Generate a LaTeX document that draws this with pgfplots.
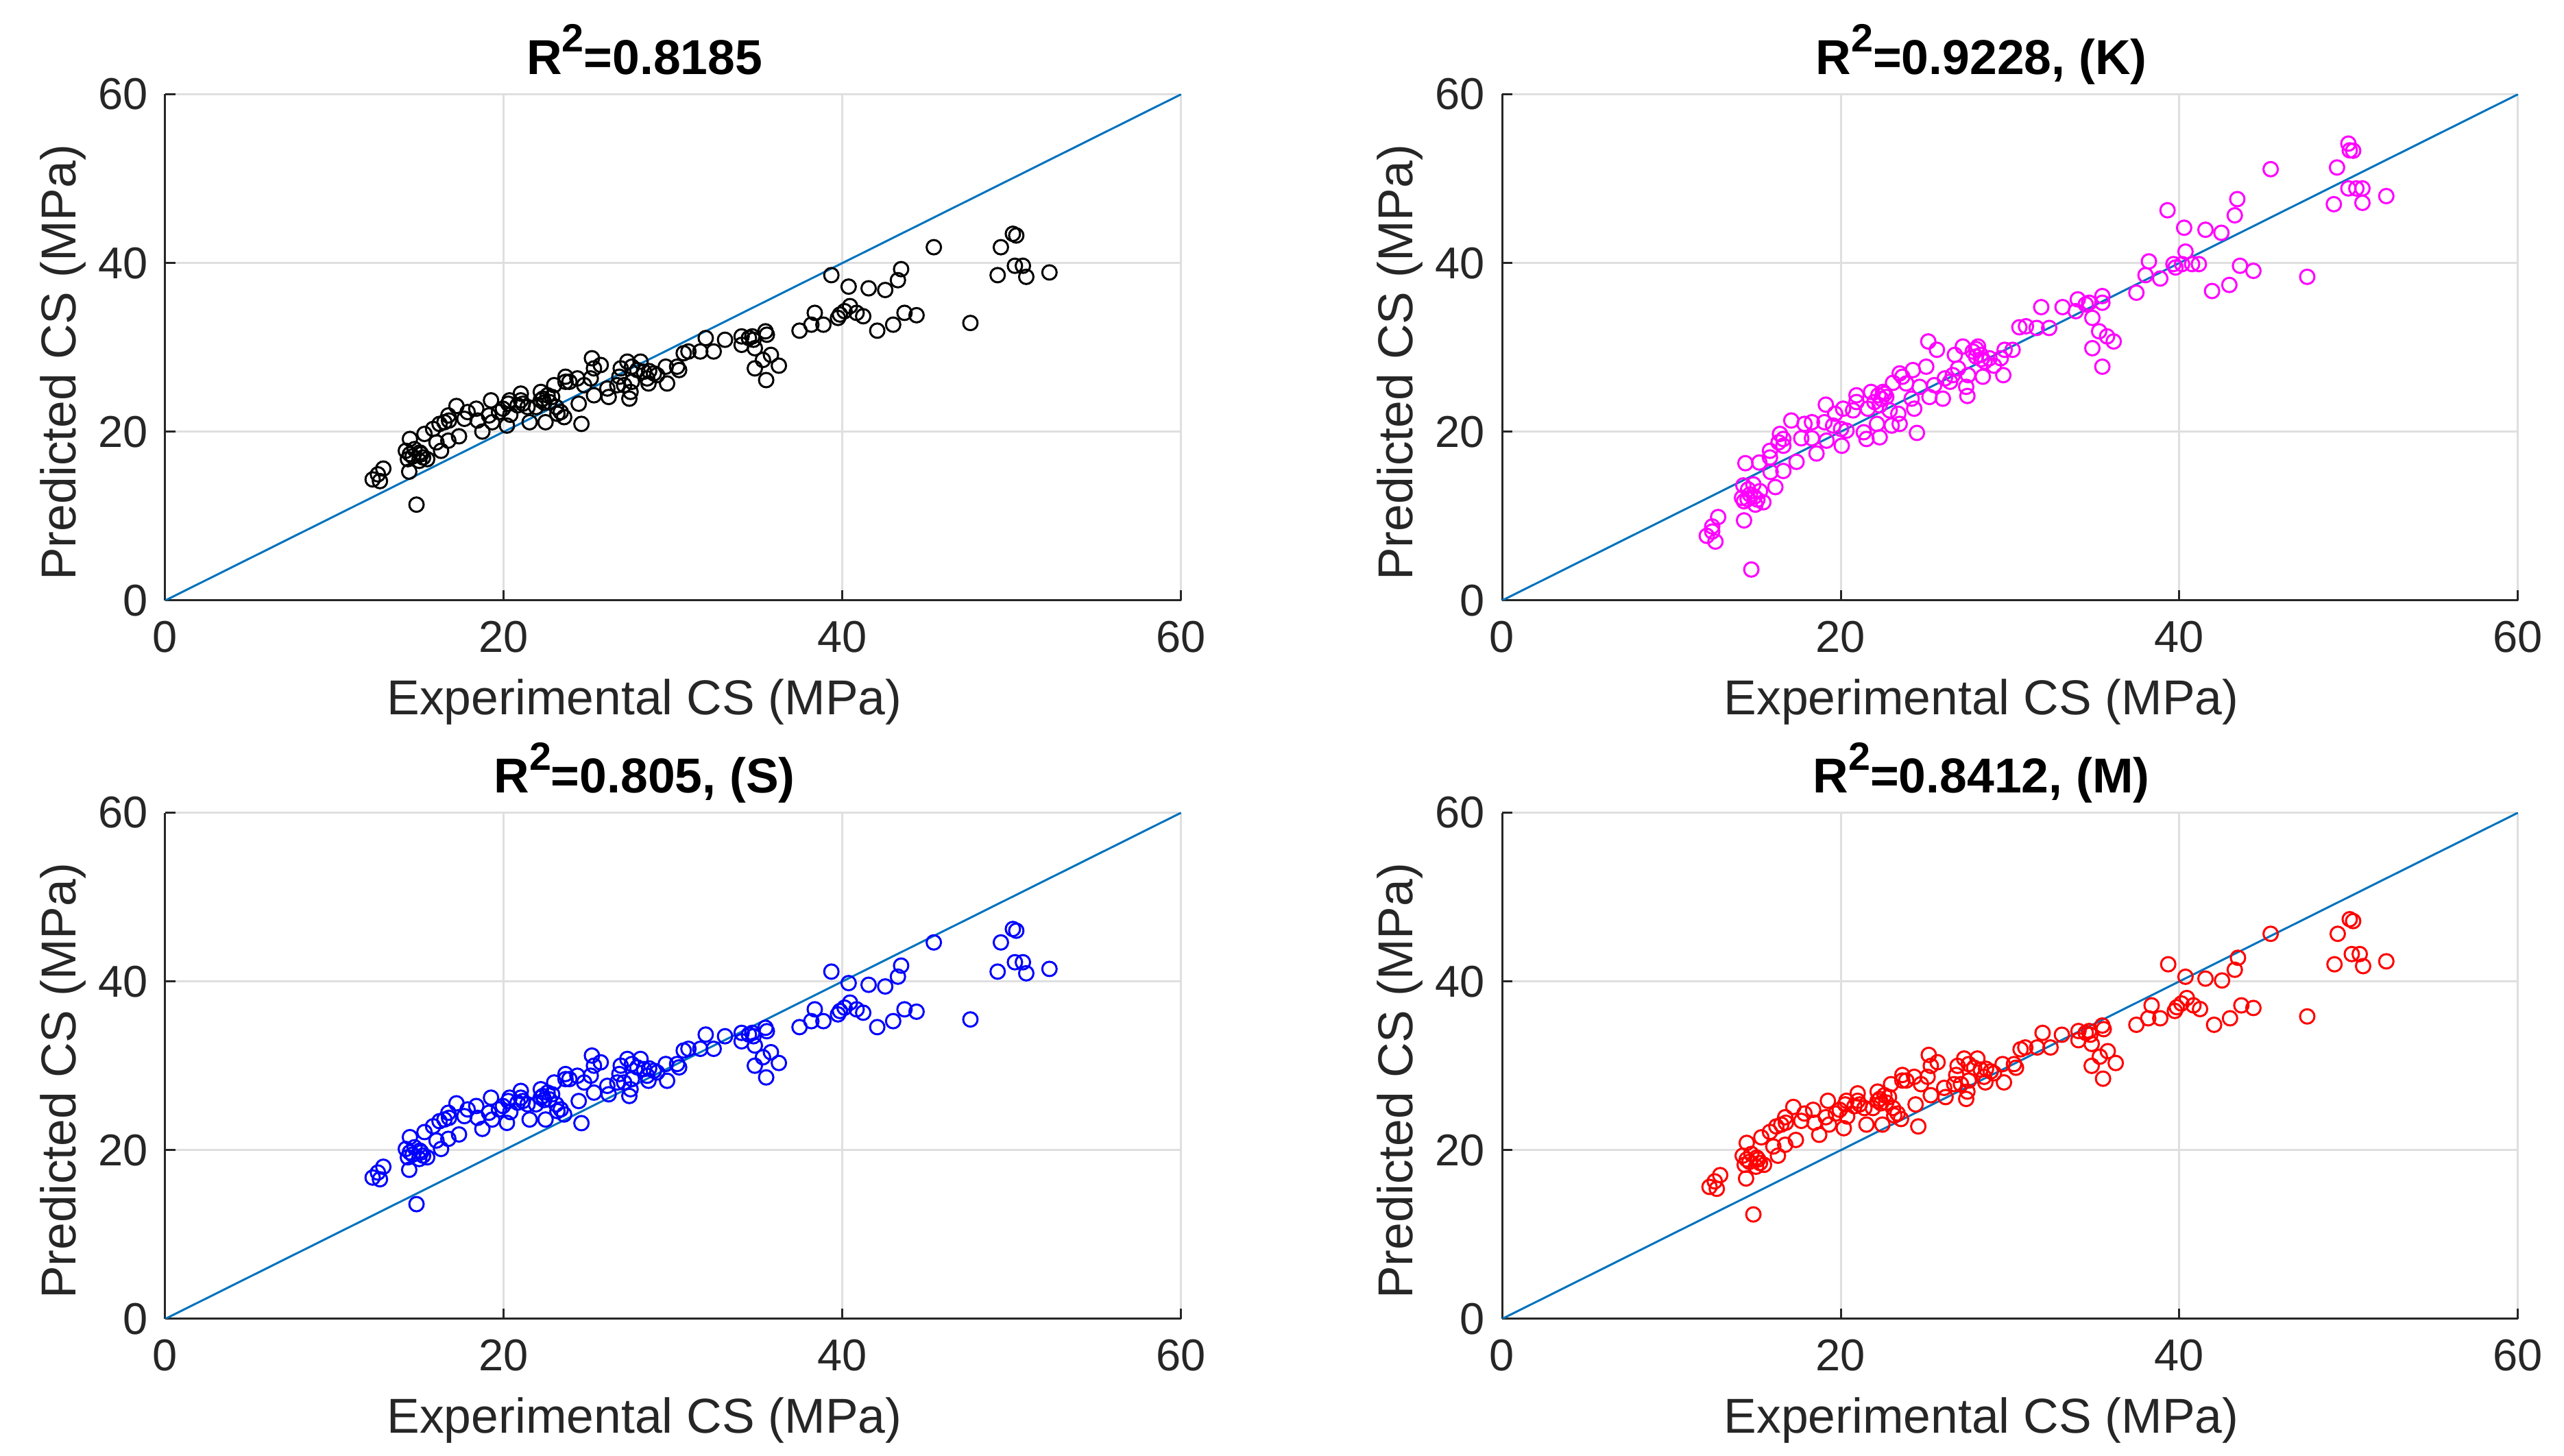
\documentclass[border=0pt]{standalone}
\usepackage{fontspec}
\setmainfont{Liberation Sans}
\usepackage{pgfplots}
\usepackage{pgfplotstable}
\pgfplotsset{compat=1.18}
\definecolor{axgray}{RGB}{38,38,38}
\definecolor{gridgray}{RGB}{223,223,223}
\definecolor{lineblue}{rgb}{0,0.447,0.741}
\definecolor{mkK}{rgb}{1,0,1}
\definecolor{mkS}{rgb}{0,0,1}
\definecolor{mkM}{rgb}{1,0,0}

% x = experimental, tl = model (top left), bl = (S), br = (M)
\pgfplotstableread{
x tl bl br
12.25 14.35 16.75 15.64
12.56 14.95 17.35 16.30
12.68 14.15 16.55 15.42
12.88 15.63 18.03 17.04
14.41 15.27 17.67 16.64
14.84 11.36 13.60 12.38
14.45 19.14 21.54 20.86
14.21 17.74 20.14 19.34
14.45 17.34 19.74 18.90
14.72 17.94 20.34 19.55
15.04 17.54 19.94 19.12
15.23 16.95 19.35 18.48
15.47 16.75 19.15 18.26
14.33 16.75 19.15 18.26
15.00 16.55 18.95 18.04
15.31 19.74 22.14 21.52
15.82 20.33 22.83 22.16
16.02 18.74 21.14 20.43
16.29 17.74 20.14 19.34
16.20 20.93 23.43 22.81
16.49 21.13 23.63 23.03
16.76 21.33 23.83 23.25
16.72 21.93 24.43 23.90
16.72 18.94 21.34 20.64
17.35 19.46 21.86 21.21
17.20 23.05 25.55 25.12
17.67 21.53 24.03 23.47
17.86 22.33 24.83 24.34
18.37 22.73 25.23 24.78
18.45 21.33 23.83 23.25
18.73 20.02 22.52 21.82
19.24 23.72 26.22 25.85
19.12 21.93 24.43 23.90
19.31 21.13 23.63 23.03
19.71 22.33 24.83 24.34
19.94 22.73 25.23 24.78
20.18 20.73 23.23 22.60
20.26 23.32 25.82 25.42
20.38 22.01 24.51 23.99
20.81 23.13 25.63 25.21
21.00 24.52 27.02 26.73
21.00 23.72 26.22 25.85
21.40 22.93 25.43 24.99
21.52 21.13 23.63 23.03
21.90 22.93 25.43 24.99
22.18 24.72 27.22 26.94
22.30 23.92 26.42 26.07
22.38 23.44 25.94 25.55
22.46 21.13 23.63 23.03
22.58 24.32 26.82 26.51
22.85 24.12 26.62 26.29
22.97 25.52 28.02 27.82
23.16 22.13 24.63 24.12
23.36 22.33 24.83 24.34
23.56 21.73 24.23 23.69
23.64 26.52 29.02 28.91
23.87 25.92 28.42 28.25
24.34 26.32 28.82 28.69
24.42 23.32 25.82 25.42
24.58 20.93 23.20 22.81
24.74 25.52 28.02 27.82
25.20 28.71 31.21 31.29
25.32 27.51 30.01 29.99
25.13 26.32 28.82 28.69
25.32 24.32 26.82 26.51
25.72 27.91 30.41 30.42
26.11 25.12 27.62 27.38
26.19 24.12 26.62 26.29
26.70 25.52 28.02 27.82
26.90 27.51 30.01 29.99
27.10 25.52 28.02 27.82
27.29 28.31 30.81 30.86
27.41 23.92 26.42 26.07
27.48 24.72 27.22 26.94
27.56 25.92 28.42 28.25
28.07 28.31 30.81 30.86
28.27 27.11 29.61 29.55
28.46 26.32 28.82 28.69
28.54 25.72 28.22 28.03
28.86 26.91 29.41 29.33
29.05 26.71 29.21 29.11
29.56 27.71 30.21 30.20
29.64 25.72 28.22 28.03
30.23 27.71 30.21 30.20
30.35 27.31 29.81 29.77
30.62 29.31 31.81 31.95
30.90 29.51 32.01 32.17
31.60 29.51 32.01 32.17
31.92 31.10 33.70 33.90
32.39 29.51 32.01 32.17
33.06 30.90 33.50 33.68
34.04 31.30 33.90 34.12
34.04 30.30 32.90 33.03
34.47 31.10 33.70 33.90
34.67 31.30 33.90 34.12
34.74 30.90 33.50 33.68
35.45 31.90 34.50 34.77
35.53 31.50 34.10 34.34
34.82 29.90 32.40 32.59
34.82 27.51 30.01 29.99
35.30 28.51 31.01 31.08
35.77 29.11 31.61 31.73
36.24 27.83 30.33 30.33
35.49 26.12 28.62 28.47
37.46 31.98 34.58 34.86
38.16 32.69 35.29 35.63
38.36 34.09 36.69 37.16
38.87 32.69 35.29 35.63
39.34 38.56 41.16 42.03
39.73 33.49 36.09 36.50
39.85 33.89 36.49 36.94
40.12 34.29 36.89 37.38
40.44 34.89 37.49 38.03
40.83 34.09 36.69 37.16
41.22 33.69 36.29 36.72
40.36 37.20 39.80 40.55
41.54 37.00 39.60 40.33
42.52 36.80 39.40 40.11
42.05 31.98 34.58 34.86
42.99 32.69 35.29 35.63
43.27 37.96 40.56 41.38
43.46 39.27 41.87 42.80
43.66 34.09 36.69 37.16
44.37 33.81 36.41 36.85
45.39 41.87 44.62 45.64
47.55 32.89 35.49 35.85
49.16 38.56 41.16 42.03
49.35 41.87 44.62 45.64
50.18 39.67 42.27 43.24
50.65 39.67 42.27 43.24
50.85 38.36 40.96 41.81
50.06 43.46 46.21 47.37
50.26 43.26 46.01 47.15
52.22 38.88 41.48 42.38
27.56 27.71 30.21 30.20
27.88 27.31 29.81 29.77
28.58 27.19 29.69 29.64
22.18 23.72 26.22 25.85
22.69 23.52 26.02 25.64
23.09 22.93 25.43 24.99
14.61 17.07 19.47 18.61
15.12 17.34 19.74 18.90
23.64 25.92 28.42 28.25
26.82 26.52 29.02 28.91
21.12 23.32 25.82 25.42
20.34 23.72 26.22 25.85
}\dataMain

% model (K)
\pgfplotstableread{
x y
12.09 7.66
12.41 8.77
12.41 8.17
12.60 6.98
12.76 9.89
14.29 9.49
14.72 3.67
14.25 13.64
14.37 16.27
14.17 12.16
14.29 11.76
14.53 13.16
14.64 12.56
14.84 13.76
14.96 11.36
15.08 11.96
15.23 12.96
15.43 11.64
15.19 16.35
15.82 16.95
15.82 17.74
15.86 15.23
16.14 13.44
16.33 18.74
16.61 19.14
16.61 18.34
16.61 15.35
16.41 19.74
17.08 21.33
17.39 16.43
17.67 19.22
17.86 20.93
18.30 21.13
18.30 19.22
18.57 17.42
19.04 21.13
19.12 23.21
19.16 18.94
19.55 20.73
19.67 22.13
20.02 20.33
20.06 18.34
20.14 22.73
20.34 20.13
20.73 22.53
20.93 24.32
20.93 23.52
21.36 19.94
21.52 19.14
21.60 22.73
21.79 24.72
21.99 23.52
22.14 20.93
22.22 24.32
22.30 23.13
22.30 19.34
22.50 24.72
22.69 24.12
22.89 22.53
23.01 20.73
23.09 25.80
23.40 22.13
23.48 20.93
23.48 26.91
23.64 26.52
23.87 25.72
24.19 23.92
24.34 22.73
24.26 27.31
24.50 19.86
24.66 25.32
25.05 27.71
25.17 30.70
25.24 24.12
25.52 25.52
25.68 29.71
26.03 23.92
26.15 26.32
26.46 25.92
26.62 26.71
26.74 29.11
26.93 27.51
27.21 30.10
27.41 25.32
27.48 24.24
27.52 26.71
27.80 29.51
27.99 28.91
28.11 30.10
28.27 29.11
28.39 26.52
28.50 28.31
28.78 28.71
29.05 27.83
29.45 28.71
29.60 26.71
29.68 29.71
30.15 29.71
30.55 32.38
30.94 32.50
31.57 32.30
31.84 34.77
32.31 32.30
33.10 34.77
33.88 34.29
34.00 35.69
34.47 35.09
34.67 35.29
34.86 33.49
34.86 29.90
35.26 31.90
35.45 36.08
35.45 35.29
35.73 31.30
36.12 30.70
35.45 27.71
37.46 36.48
38.00 38.56
38.20 40.19
38.87 38.16
39.30 46.25
39.65 39.87
39.77 39.47
40.16 39.87
40.28 44.18
40.36 41.35
40.75 39.87
41.15 39.87
41.54 43.94
41.93 36.68
42.48 43.58
42.95 37.40
43.27 45.65
43.42 47.57
43.58 39.67
44.37 39.07
45.39 51.12
47.55 38.36
49.12 46.97
49.31 51.32
49.98 54.15
50.06 53.35
50.26 53.31
49.98 48.84
50.45 48.84
50.81 48.84
50.81 47.13
52.22 47.93
22.40 23.90
22.60 24.50
28.00 29.80
28.30 28.60
14.50 12.00
14.90 12.30
}\dataK

\pgfplotsset{
  panel/.style={
    scale only axis, width=296.4pt, height=147.7pt,
    xmin=0, xmax=60, ymin=0, ymax=60,
    xtick={0,20,40,60}, ytick={0,20,40,60},
    axis x line*=bottom, axis y line*=left,
    axis line style={axgray, line width=0.6pt},
    tick style={axgray, line width=0.6pt},
    tick align=inside, major tick length=3pt,
    grid=major, grid style={gridgray, line width=0.6pt},
    /pgf/number format/assume math mode=true,
    ticklabel style={font=\fontsize{13}{15}\selectfont, text=axgray},
    yticklabel style={xshift=-1.5pt},
    xticklabel style={yshift=-2.5pt},
    every axis x label/.style={at={(axis description cs:0.4717,-0.2255)}, anchor=base},
    every axis y label/.style={at={(axis description cs:-0.0884,0.470)}, anchor=base, rotate=90},
    every axis title/.style={at={(axis description cs:0.4717,1.0393)}, anchor=base},
    label style={font=\fontsize{14.3}{17}\selectfont, text=axgray},
    title style={font=\fontsize{14.3}{17}\selectfont\bfseries, text=black},
    xlabel={Experimental CS (MPa)},
    ylabel={Predicted CS (MPa)},
  },
  pts/.style={only marks, mark=o, mark size=2.1pt, mark options={line width=0.6pt}},
  diag/.style={lineblue, line width=0.6pt},
}
\newcommand{\rsq}{R\raisebox{0.46em}{\fontsize{11.5}{12}\selectfont 2}}

\begin{document}
\begin{tikzpicture}
\useasboundingbox (0,0) rectangle (748pt,424.8pt);

\begin{axis}[panel, at={(48.2pt,249.6pt)}, anchor=south west, title={\rsq=0.8185}]
\addplot[pts, draw=black] table[x=x, y=tl]{\dataMain};
\addplot[diag] coordinates {(0,0) (60,60)};
\end{axis}

\begin{axis}[panel, at={(438.2pt,249.6pt)}, anchor=south west, title={\rsq=0.9228, (K)}]
\addplot[pts, draw=mkK] table[x=x, y=y]{\dataK};
\addplot[diag] coordinates {(0,0) (60,60)};
\end{axis}

\begin{axis}[panel, at={(48.2pt,40pt)}, anchor=south west, title={\rsq=0.805, (S)}]
\addplot[pts, draw=mkS] table[x=x, y=bl]{\dataMain};
\addplot[diag] coordinates {(0,0) (60,60)};
\end{axis}

\begin{axis}[panel, at={(438.2pt,40pt)}, anchor=south west, title={\rsq=0.8412, (M)}]
\addplot[pts, draw=mkM] table[x=x, y=br]{\dataMain};
\addplot[diag] coordinates {(0,0) (60,60)};
\end{axis}

\end{tikzpicture}
\end{document}
